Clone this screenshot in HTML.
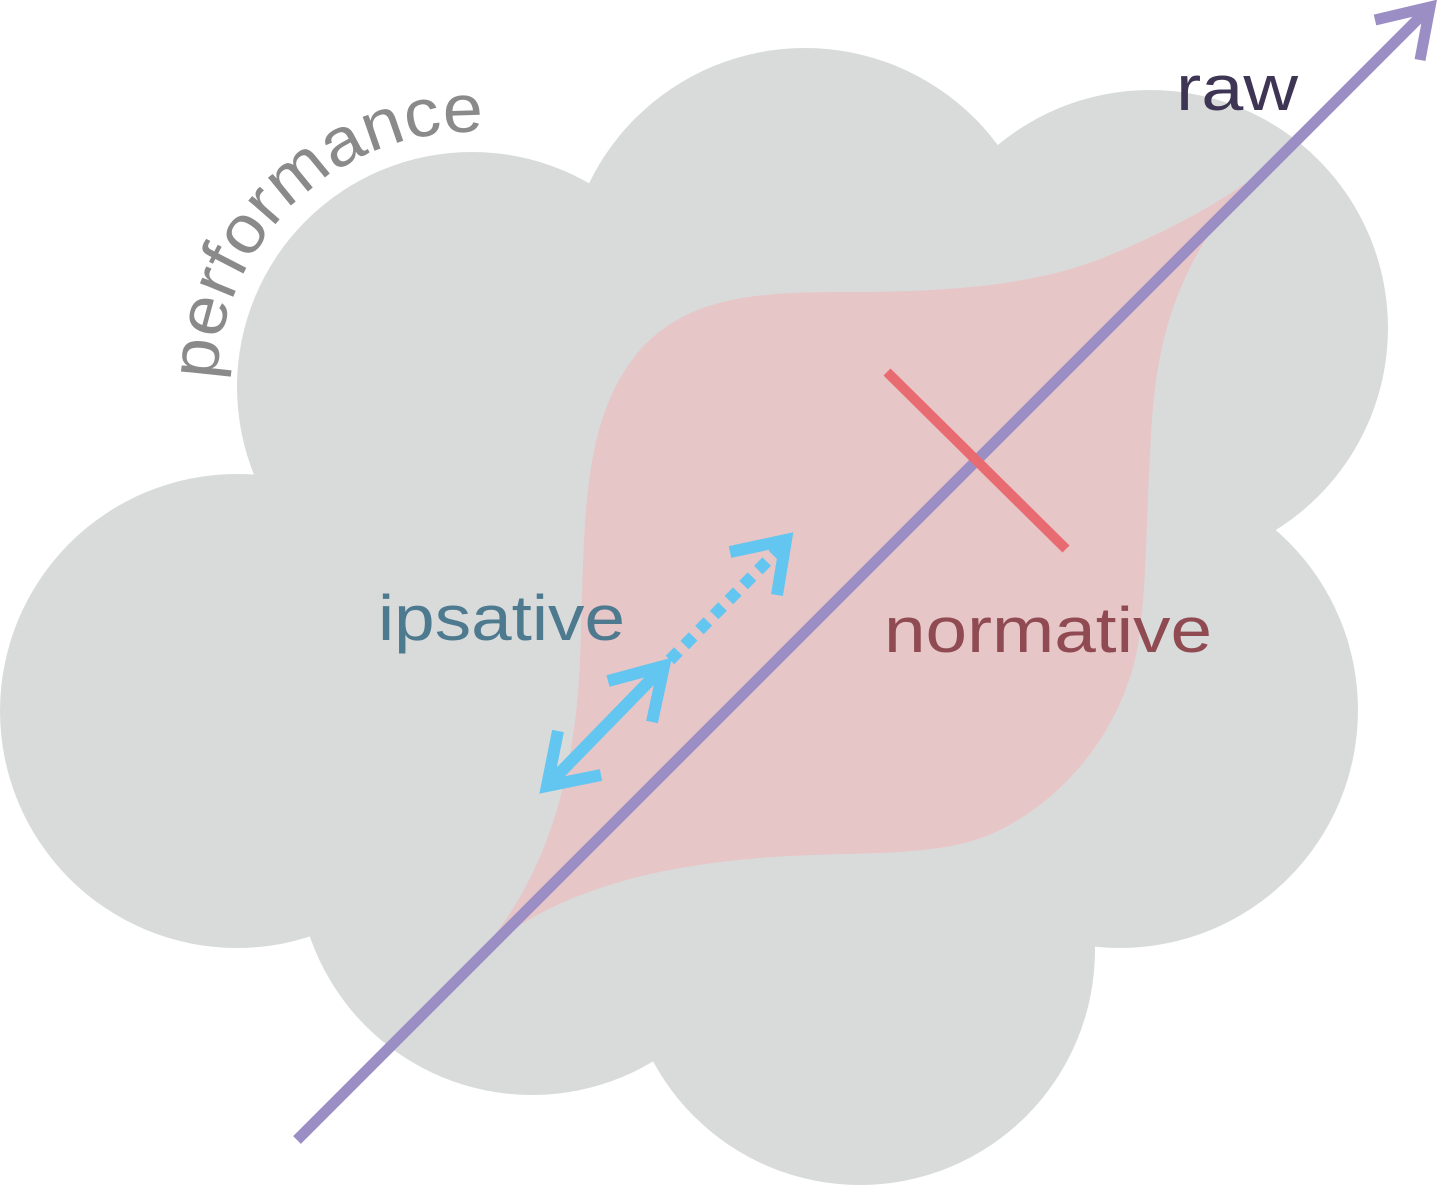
<!DOCTYPE html>
<html><head><meta charset="utf-8"><style>
html,body{margin:0;padding:0;background:#fff;}
svg{display:block;}
text{font-family:"Liberation Sans",sans-serif;}
</style></head><body>
<svg width="1437" height="1185" viewBox="0 0 1437 1185" xmlns="http://www.w3.org/2000/svg">
<g fill="#d9dbdb">
<circle cx="237" cy="711" r="237"/>
<circle cx="472" cy="387" r="235"/>
<circle cx="805" cy="288" r="240"/>
<circle cx="1150" cy="328" r="238"/>
<circle cx="1120" cy="710" r="238"/>
<circle cx="860" cy="950" r="235"/>
<circle cx="532" cy="860" r="235"/>
<rect x="330" y="300" width="820" height="620"/>
</g>
<path fill="#e7c6c8" d="M478,955 C545,880 575,780 580,660 C585,520 580,420 640,350 C690,295 760,292 850,292 C950,292 1040,285 1110,255 C1170,230 1215,205 1250,180 C1200,240 1160,300 1152,420 C1145,520 1148,600 1135,660 C1115,740 1060,800 1000,830 C940,860 860,850 760,858 C640,868 550,895 478,955 Z"/>
<defs><path id="arc" d="M217,380 A255 255 0 0 1 505,134"/></defs>
<text font-size="68" fill="#8a8a8a"><textPath href="#arc" textLength="405" lengthAdjust="spacingAndGlyphs">performance</textPath></text>
<text x="1176" y="110" font-size="64" fill="#3d3553" textLength="122" lengthAdjust="spacingAndGlyphs">raw</text>
<text x="378" y="640" font-size="64" fill="#4e7a8f" textLength="247" lengthAdjust="spacingAndGlyphs">ipsative</text>
<text x="884" y="652" font-size="64" fill="#8f4a52" textLength="328" lengthAdjust="spacingAndGlyphs">normative</text>
<g stroke="#9b8ec4" stroke-width="11" fill="none">
<line x1="297" y1="1140" x2="1430" y2="7"/>
<polyline points="1375,20 1430,7 1420,60"/>
</g>
<line x1="887" y1="372" x2="1066" y2="549" stroke="#e86b72" stroke-width="10"/>
<g stroke="#62c6f0" stroke-width="12" fill="none">
<line x1="547" y1="786" x2="664" y2="666"/>
<polyline points="608,681 664,666 652,722"/>
<polyline points="558,731 547,786 601,775"/>
<line x1="670" y1="660" x2="782" y2="546" stroke-dasharray="12,9"/>
<polyline points="730,552 786,540 777,595"/>
</g>
</svg>
</body></html>
